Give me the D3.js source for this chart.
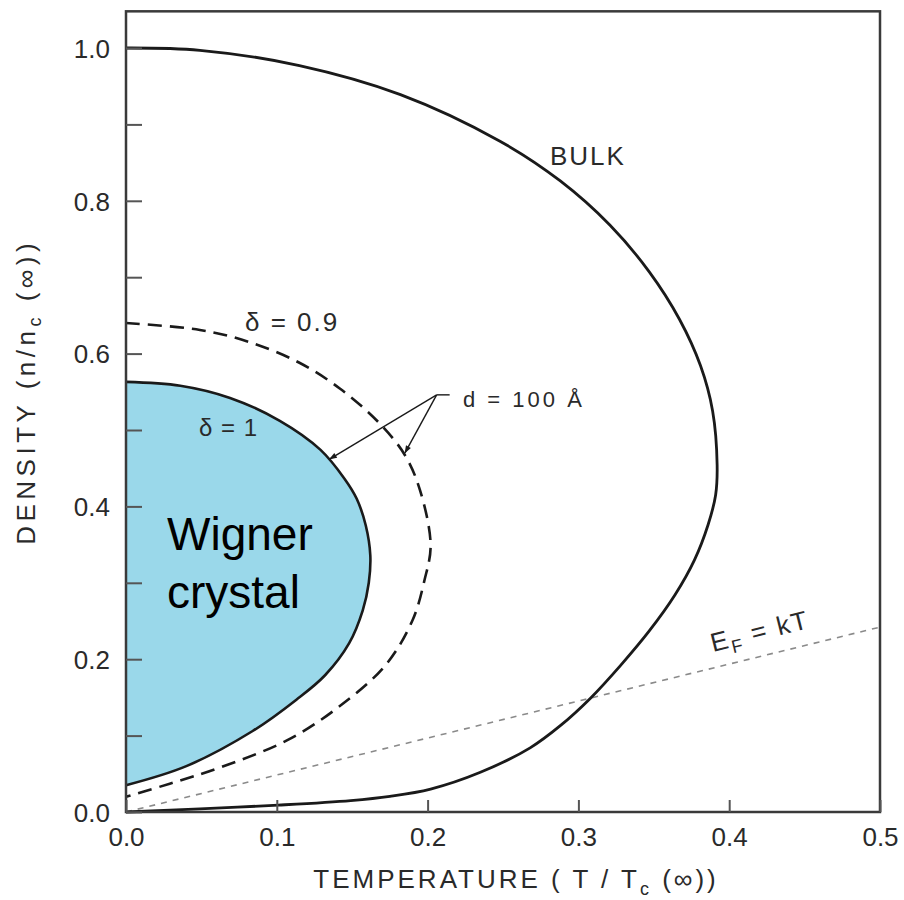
<!DOCTYPE html>
<html>
<head>
<meta charset="utf-8">
<script src="https://cdn.jsdelivr.net/npm/d3@7"></script>
<style>
  html, body { margin: 0; padding: 0; background: #fff; }
  svg { display: block; }
  .lbl { font-family: "Liberation Sans", Arial, sans-serif; fill: #2a2a2a; }
</style>
</head>
<body>
<svg id="chart" width="904" height="900"></svg>
<script>
// Phase boundaries: reduced temperature T/Tc(inf) vs reduced density n/nc(inf)
const bulkT  = [0, 0.049, 0.115, 0.182, 0.248, 0.288, 0.321, 0.347, 0.367, 0.381, 0.389, 0.392,
                0.391, 0.386, 0.377, 0.364, 0.347, 0.328, 0.308, 0.288, 0.268, 0.235, 0.202, 0.175, 0.149, 0.101, 0.049, 0];
const bulkN  = [1.0, 0.997, 0.977, 0.939, 0.878, 0.826, 0.768, 0.707, 0.645, 0.584, 0.525, 0.454,
                0.415, 0.376, 0.330, 0.284, 0.237, 0.192, 0.149, 0.113, 0.084, 0.052, 0.030, 0.0205, 0.015, 0.009, 0.004, 0];

const d09T   = [0, 0.049, 0.082, 0.115, 0.142, 0.168, 0.185, 0.195, 0.202, 0.198, 0.190, 0.172, 0.140, 0.107, 0.062, 0.029, 0];
const d09N   = [0.640, 0.631, 0.615, 0.588, 0.554, 0.509, 0.467, 0.421, 0.349, 0.304, 0.251, 0.192, 0.136, 0.094, 0.058, 0.037, 0.020];

const d1T    = [0, 0.036, 0.069, 0.102, 0.129, 0.145, 0.153, 0.159, 0.162, 0.161, 0.157, 0.148, 0.132, 0.113, 0.084, 0.040, 0];
const d1N    = [0.563, 0.558, 0.542, 0.512, 0.474, 0.436, 0.410, 0.375, 0.336, 0.300, 0.264, 0.221, 0.179, 0.147, 0.106, 0.060, 0.035];

// Fermi energy equal to thermal energy
const efT    = [0, 0.5];
const efN    = [0, 0.242];

const xTicks = [0, 0.1, 0.2, 0.3, 0.4, 0.5];
const xTickLabels = ["0.0", "0.1", "0.2", "0.3", "0.4", "0.5"];
const yTicks = [0, 0.1, 0.2, 0.3, 0.4, 0.5, 0.6, 0.7, 0.8, 0.9, 1.0];
const yTickLabels = ["0.0", "", "0.2", "", "0.4", "", "0.6", "", "0.8", "", "1.0"];

const svg = d3.select("#chart");
const x = d3.scaleLinear().domain([0, 0.5]).range([126, 880]);
const y = d3.scaleLinear().domain([0, 1]).range([812, 48]);
const yTop = 1.048;

const pts = (ts, ns) => ts.map((t, i) => [t, ns[i]]);
const line = d3.line().x(d => x(d[0])).y(d => y(d[1])).curve(d3.curveCatmullRom.alpha(0.5));

// Wigner crystal region (delta = 1), filled
svg.append("path")
  .attr("d", line(pts(d1T, d1N)) + "Z")
  .attr("fill", "#9ad8ea").attr("stroke", "none");

// E_F = kT reference line
svg.append("path")
  .attr("d", d3.line().x(d => x(d[0])).y(d => y(d[1]))(pts(efT, efN)))
  .attr("fill", "none").attr("stroke", "#8a8a8a")
  .attr("stroke-width", 1.6).attr("stroke-dasharray", "6,6");

// delta = 0.9 boundary
svg.append("path")
  .attr("d", line(pts(d09T, d09N)))
  .attr("fill", "none").attr("stroke", "#1a1a1a")
  .attr("stroke-width", 2.6).attr("stroke-dasharray", "14,8");

// delta = 1 boundary
svg.append("path")
  .attr("d", line(pts(d1T, d1N)))
  .attr("fill", "none").attr("stroke", "#1a1a1a").attr("stroke-width", 2.6);

// bulk boundary
svg.append("path")
  .attr("d", line(pts(bulkT, bulkN)))
  .attr("fill", "none").attr("stroke", "#1a1a1a").attr("stroke-width", 2.8);

// frame
svg.append("rect")
  .attr("x", x(0)).attr("y", y(yTop))
  .attr("width", x(0.5) - x(0)).attr("height", y(0) - y(yTop))
  .attr("fill", "none").attr("stroke", "#3a3a3a").attr("stroke-width", 2.5);

// axes with inward ticks
const yAxis = d3.axisLeft(y).tickValues(yTicks).tickSize(-16).tickPadding(16)
  .tickFormat((d, i) => yTickLabels[i]);
const gy = svg.append("g").attr("transform", `translate(${x(0)},0)`).call(yAxis);
gy.select(".domain").remove();
gy.selectAll(".tick line").attr("stroke", "#555").attr("stroke-width", 2);
gy.selectAll(".tick text").attr("class", "lbl").attr("font-size", 26).attr("dy", "0.36em");

const xAxis = d3.axisBottom(x).tickValues(xTicks).tickSize(-12).tickPadding(14)
  .tickFormat((d, i) => xTickLabels[i]);
const gx = svg.append("g").attr("transform", `translate(0,${y(0)})`).call(xAxis);
gx.select(".domain").remove();
gx.selectAll(".tick line").attr("stroke", "#555").attr("stroke-width", 2);
gx.selectAll(".tick text").attr("class", "lbl").attr("font-size", 26).attr("dy", "0.75em");

// axis titles
const yt = svg.append("text").attr("class", "lbl")
  .attr("transform", `translate(35,${y(0.55)}) rotate(-90)`)
  .attr("text-anchor", "middle").attr("font-size", 26).attr("letter-spacing", 4.5);
yt.append("tspan").text("DENSITY (n/n");
yt.append("tspan").attr("font-size", 18).attr("dy", 6).text("c");
yt.append("tspan").attr("dy", -6).text(" (\u221E))");

const xt = svg.append("text").attr("class", "lbl")
  .attr("x", 516).attr("y", 888)
  .attr("text-anchor", "middle").attr("font-size", 26).attr("letter-spacing", 3);
xt.append("tspan").text("TEMPERATURE ( T / T");
xt.append("tspan").attr("font-size", 18).attr("dy", 7).text("c");
xt.append("tspan").attr("dy", -7).text(" (\u221E))");

// curve labels
svg.append("text").attr("class", "lbl").attr("x", 550).attr("y", 165)
  .attr("font-size", 26).attr("letter-spacing", 2).text("BULK");
svg.append("text").attr("class", "lbl").attr("x", 245).attr("y", 331)
  .attr("font-size", 26).attr("letter-spacing", 2).text("\u03B4 = 0.9");
svg.append("text").attr("class", "lbl").attr("x", 199).attr("y", 436)
  .attr("font-size", 24).attr("letter-spacing", 1).text("\u03B4 = 1");

const ef = svg.append("text").attr("class", "lbl")
  .attr("transform", `translate(713,652) rotate(-14)`)
  .attr("font-size", 26).attr("letter-spacing", 2);
ef.append("tspan").text("E");
ef.append("tspan").attr("font-size", 18).attr("dy", 6).text("F");
ef.append("tspan").attr("dy", -6).text(" = kT");

// d = 100 Å annotation with arrows
svg.append("defs").append("marker")
  .attr("id", "head").attr("viewBox", "0 0 10 10").attr("refX", 9).attr("refY", 5)
  .attr("markerWidth", 10).attr("markerHeight", 8).attr("orient", "auto")
  .attr("markerUnits", "userSpaceOnUse")
  .append("path").attr("d", "M0,1.5 L10,5 L0,8.5 Z").attr("fill", "#1a1a1a");

const apex = [0.206, 0.546];
const tips = [[0.135, 0.462], [0.185, 0.470]];
tips.forEach(tp => {
  svg.append("line")
    .attr("x1", x(apex[0])).attr("y1", y(apex[1]))
    .attr("x2", x(tp[0])).attr("y2", y(tp[1]))
    .attr("stroke", "#1a1a1a").attr("stroke-width", 1.4)
    .attr("marker-end", "url(#head)");
});
svg.append("line")
  .attr("x1", x(apex[0])).attr("y1", y(apex[1]))
  .attr("x2", x(apex[0]) + 13).attr("y2", y(apex[1]))
  .attr("stroke", "#1a1a1a").attr("stroke-width", 1.4);
svg.append("text").attr("class", "lbl").attr("x", 463).attr("y", 407)
  .attr("font-size", 22).attr("letter-spacing", 3).text("d = 100 \u00C5");

// region label
const wc = svg.append("text").attr("font-family", "Liberation Sans, Arial, sans-serif")
  .attr("font-size", 46).attr("fill", "#000");
wc.append("tspan").attr("x", 167).attr("y", 550).text("Wigner");
wc.append("tspan").attr("x", 167).attr("y", 608).text("crystal");
</script>
</body>
</html>
